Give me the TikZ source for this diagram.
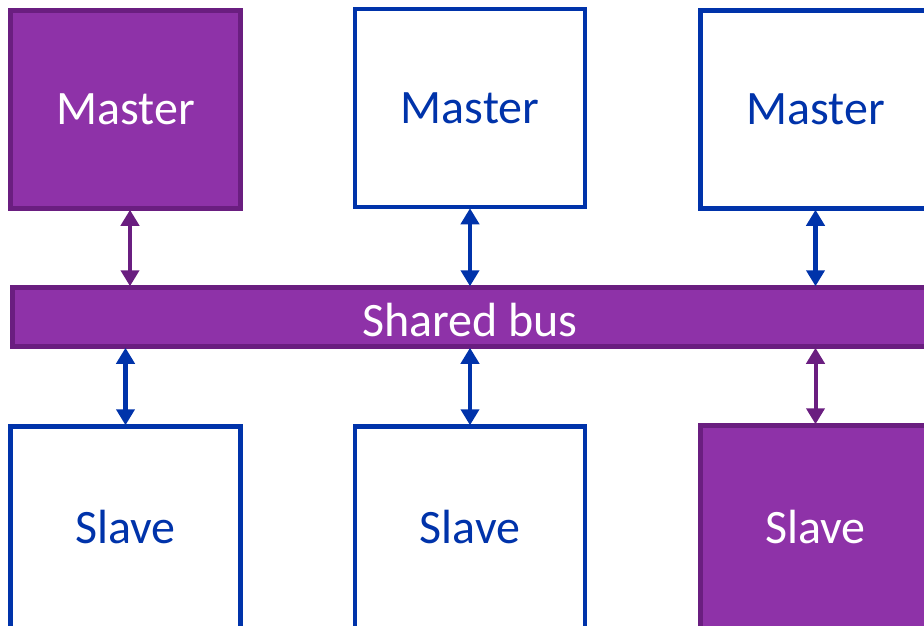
\documentclass[tikz,border=0pt]{standalone}
\usepackage{fontspec}
\setmainfont{Carlito}
\usetikzlibrary{arrows.meta}
\definecolor{busfill}{RGB}{142,50,168}
\definecolor{busline}{RGB}{106,30,128}
\definecolor{unitblue}{RGB}{0,51,170}
\begin{document}
\begin{tikzpicture}[x=1pt,y=-1pt,
  label font/.style={font=\fontsize{48}{52}\selectfont,inner sep=0pt},
  unit/.style={rectangle,line width=4.5pt,minimum width=230pt,minimum height=198pt,label font},
  active/.style={unit,draw=busline,fill=busfill,text=white},
  idle/.style={unit,draw=unitblue,fill=white,text=unitblue},
  link/.style={line width=4.6pt,{Triangle[width=18pt,length=16pt]}-{Triangle[width=18pt,length=16pt]},shorten <=-1pt,shorten >=-1pt},
  bluelink/.style={link,draw=unitblue,fill=unitblue},
  purplelink/.style={link,line width=4pt,draw=busline,fill=busline}]
\useasboundingbox (0,0) rectangle (924,625);
\clip (0,0) rectangle (924,625);
% masters
\node[active] (m1) at (125.5,109.5) {Master};
\node[idle]   (m2) at (470,108)     {Master};
\node[idle]   (m3) at (815.5,109.5) {Master};
% shared bus
\node[rectangle,line width=4.5pt,draw=busline,fill=busfill,
  minimum width=1000pt,minimum height=59pt,anchor=west,inner sep=0pt] (bus) at (10,317) {};
\node[label font,text=white] (buslabel) at (470,320) {Shared bus};
% slaves
\node[active,minimum height=300pt] (s3) at (815.5,575.5) {};
\node[idle,minimum height=300pt]   (s1) at (125.5,576.5) {};
\node[idle,minimum height=300pt]   (s2) at (470,576.5)   {};
\node[label font,text=unitblue] (s1l) at (125.5,527) {Slave};
\node[label font,text=unitblue] (s2l) at (470,527) {Slave};
\node[label font,text=white] (s3l) at (815.5,527) {Slave};
% links between units and bus
\draw[purplelink] ([xshift=4.5pt]m1.south) -- ([xshift=4.5pt]m1.south |- bus.north);
\draw[bluelink] (m2.south) -- (m2.south |- bus.north);
\draw[bluelink] (m3.south) -- (m3.south |- bus.north);
\draw[bluelink] (s1.north) -- (s1.north |- bus.south);
\draw[bluelink] (s2.north) -- (s2.north |- bus.south);
\draw[purplelink] (s3.north) -- (s3.north |- bus.south);
\end{tikzpicture}
\end{document}
